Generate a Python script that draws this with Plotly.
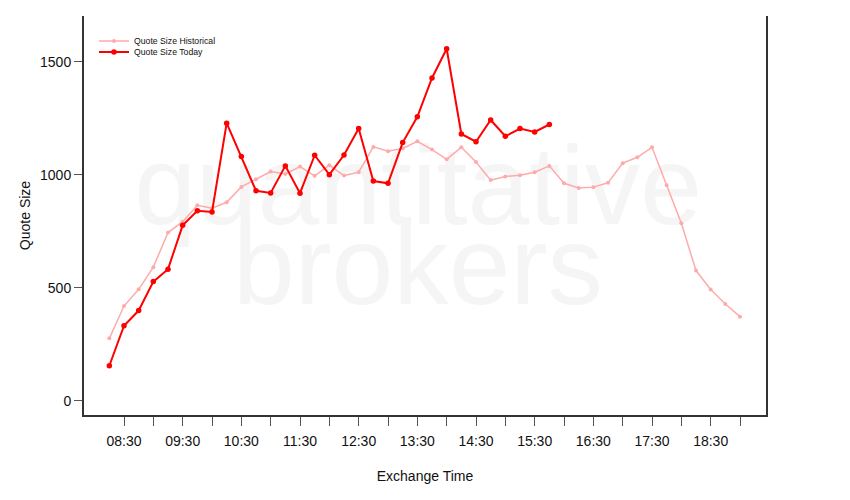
import plotly.graph_objects as go

# ---------------- data ----------------
time_hist = ["08:15", "08:30", "08:45", "09:00", "09:15", "09:30", "09:45", "10:00",
             "10:15", "10:30", "10:45", "11:00", "11:15", "11:30", "11:45", "12:00",
             "12:15", "12:30", "12:45", "13:00", "13:15", "13:30", "13:45", "14:00",
             "14:15", "14:30", "14:45", "15:00", "15:15", "15:30", "15:45", "16:00",
             "16:15", "16:30", "16:45", "17:00", "17:15", "17:30", "17:45", "18:00",
             "18:15", "18:30", "18:45", "19:00"]
hist_values = [277, 420, 494, 592, 745, 793, 866, 853, 879, 947, 981, 1015,
               1004, 1037, 996, 1043, 997, 1012, 1124, 1105, 1117, 1149, 1112, 1069,
               1122, 1057, 977, 993, 999, 1012, 1040, 963, 942, 946, 965, 1052,
               1078, 1122, 954, 786, 577, 493, 429, 373]

time_today = ["08:15", "08:30", "08:45", "09:00", "09:15", "09:30", "09:45", "10:00",
              "10:15", "10:30", "10:45", "11:00", "11:15", "11:30", "11:45", "12:00",
              "12:15", "12:30", "12:45", "13:00", "13:15", "13:30", "13:45", "14:00",
              "14:15", "14:30", "14:45", "15:00", "15:15", "15:30", "15:45"]
today_values = [156, 333, 400, 528, 583, 777, 841, 836, 1229, 1081, 930, 920,
                1040, 919, 1087, 1001, 1088, 1205, 973, 963, 1143, 1257, 1429, 1558,
                1181, 1147, 1243, 1171, 1205, 1190, 1223]

tick_times = ["08:30", "09:00", "09:30", "10:00", "10:30", "11:00", "11:30", "12:00",
              "12:30", "13:00", "13:30", "14:00", "14:30", "15:00", "15:30", "16:00",
              "16:30", "17:00", "17:30", "18:00", "18:30", "19:00"]
tick_labels = ["08:30", "", "09:30", "", "10:30", "", "11:30", "", "12:30", "",
               "13:30", "", "14:30", "", "15:30", "", "16:30", "", "17:30", "",
               "18:30", ""]
y_ticks = [0, 500, 1000, 1500]

DAY = "2024-01-02 "


def ts(t):
    return DAY + t


FONT = "Liberation Sans, Arial, Helvetica, sans-serif"
AXIS_COLOR = "#333333"

fig = go.Figure()
fig.add_trace(go.Scatter(
    x=[ts(t) for t in time_hist], y=hist_values,
    mode="lines+markers", name="Quote Size Historical",
    line=dict(color="#FFAAAA", width=1.5),
    marker=dict(color="#FFAAAA", size=4),
    legend="legend",
))
fig.add_trace(go.Scatter(
    x=[ts(t) for t in time_today], y=today_values,
    mode="lines+markers", name="Quote Size Today",
    line=dict(color="#FF0000", width=2),
    marker=dict(color="#FF0000", size=5.5),
    legend="legend2",
))

L, R, T, B = 84, 84, 16, 85
PH = 500 - T - B


def py(pix):
    return (500 - B - pix) / PH


wm_font = dict(family=FONT, size=111, color="#f5f5f5")
shapes = []
for txt, yc in [("quantitative", 175), ("brokers", 255)]:
    shapes.append(dict(
        type="rect", xref="paper", yref="paper", layer="below",
        x0=(418 - 84 - 5) / 682, x1=(418 - 84 + 5) / 682,
        y0=py(yc) - 0.005, y1=py(yc) + 0.005,
        line=dict(width=0), fillcolor="rgba(0,0,0,0)",
        label=dict(text=txt, font=wm_font, textposition="middle center"),
    ))

leg_common = dict(
    xanchor="left", yanchor="middle", bgcolor="rgba(0,0,0,0)",
    font=dict(family=FONT, size=8.7, color="#111111"), itemwidth=30,
    borderwidth=0,
)

fig.update_layout(
    width=850, height=500,
    margin=dict(l=L, r=R, t=T, b=B, autoexpand=False),
    paper_bgcolor="white", plot_bgcolor="white",
    font=dict(family=FONT, size=14, color="#111111"),
    showlegend=True,
    legend=dict(x=(94 - 84) / 682, y=py(41), **leg_common),
    legend2=dict(x=(94 - 84) / 682, y=py(52), **leg_common),
    shapes=shapes,
    xaxis=dict(
        type="date", automargin=False,
        range=[ts("07:49:05"), ts("19:26:35")],
        tickmode="array", tickvals=[ts(t) for t in tick_times], ticktext=tick_labels,
        ticks="outside", ticklen=9, tickcolor="#555555", tickwidth=1,
        showline=True, linecolor=AXIS_COLOR, linewidth=2,
        showgrid=False, zeroline=False,
        tickfont=dict(size=14, color="#111111"),
        ticklabelstandoff=3,
        title=dict(text="Exchange Time", font=dict(size=14), standoff=23),
    ),
    yaxis=dict(
        automargin=False,
        range=[-62, 1703],
        tickmode="array", tickvals=y_ticks,
        ticks="outside", ticklen=8, tickcolor="#555555", tickwidth=1,
        showline=True, mirror=True, linecolor=AXIS_COLOR, linewidth=2,
        showgrid=False, zeroline=False,
        tickfont=dict(size=14, color="#111111"),
        ticklabelstandoff=0,
        title=dict(text="Quote Size", font=dict(size=14), standoff=6),
    ),
)

fig.write_html(
    "out.html",
    config={"displayModeBar": False},
    post_script="document.body.style.margin='0px';document.body.style.overflow='hidden';",
)
